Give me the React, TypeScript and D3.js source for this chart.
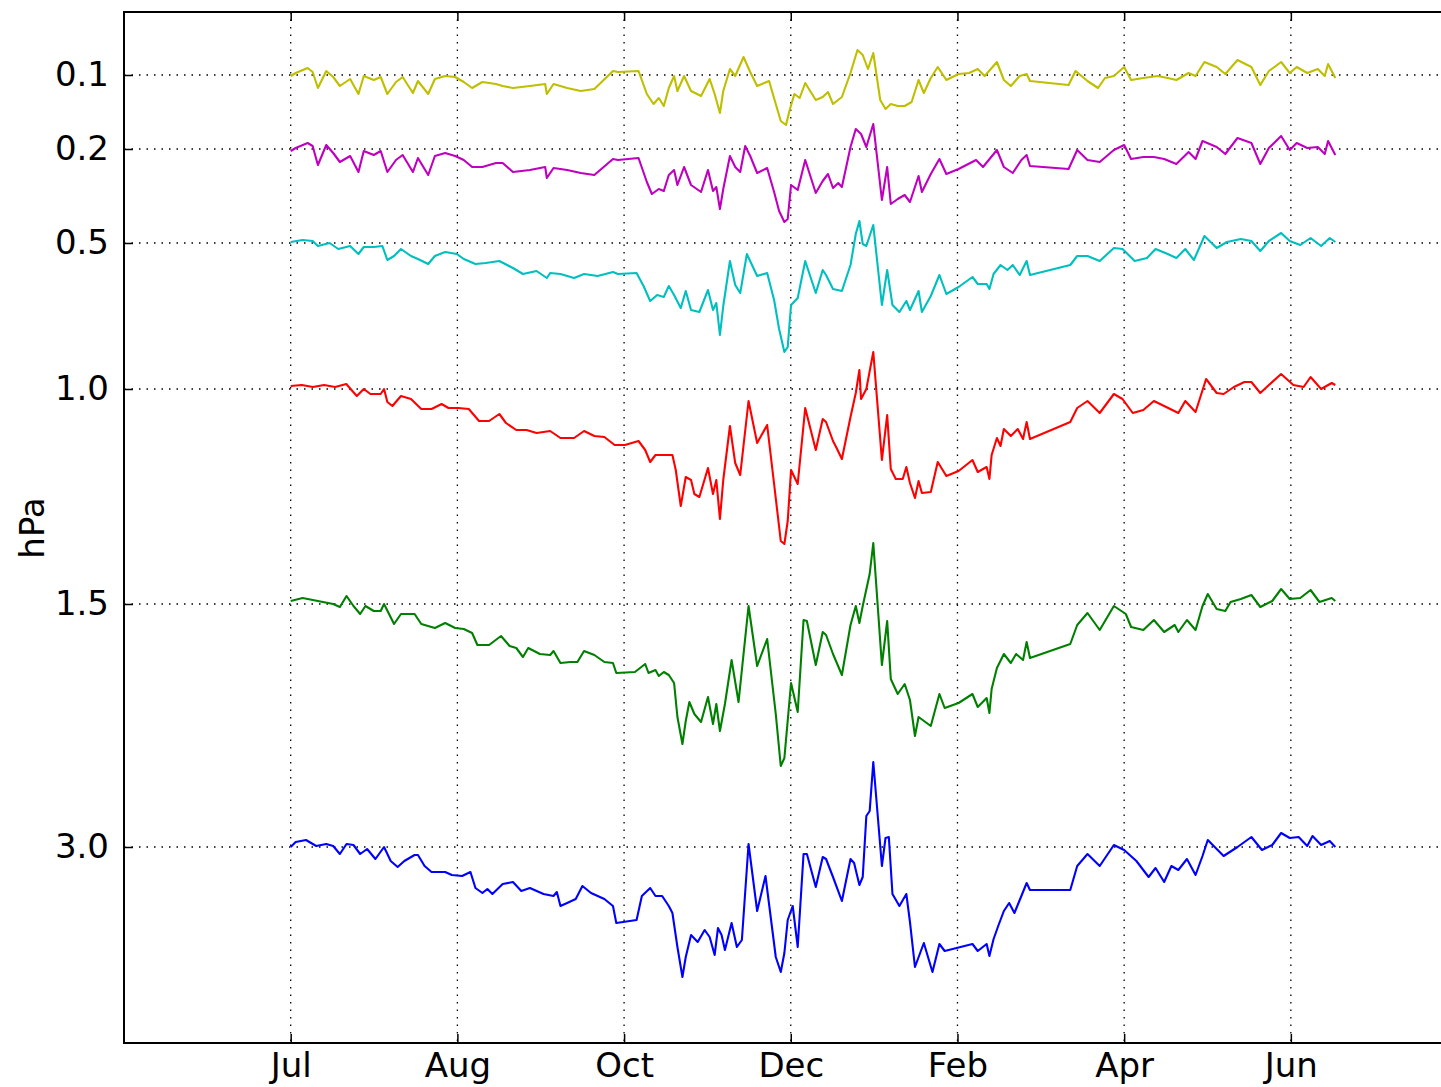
import React, { useEffect, useRef } from "react";
import * as d3 from "d3";

// pressure levels, their vertical offset on the plot, and line colours (matplotlib classic)
const levels = ["0.1", "0.2", "0.5", "1.0", "1.5", "3.0"];
const levelOffsets = [0, 74, 168, 314, 529, 772];
const colors = ["#bfbf00", "#bf00bf", "#00bfbf", "#ff0000", "#008000", "#0000ff"];

// x ticks every 60 days from Jul 1
const startDate = new Date(Date.UTC(2010, 6, 1));
const tickDays = [0, 60, 120, 180, 240, 300, 360];

// [day since Jul 1, anomaly (up = positive)]
const yellow: [number, number][] = [
  [0,-1],[1.8,2],[6.1,7],[7.9,3],[9.8,-13],[12.8,4],[15.3,-2],[17.7,-11],[21.4,-4],[24.4,-19],[26.3,-1],[29.9,-5],[32.4,-2],[34.8,-19],[37.9,-7],[40.3,-2],[44,-18],[45.8,-6],[49.5,-19],[51.9,-4],[55.6,-1],[59.2,-2],[62.3,-7],[65.3,-13],[69,-7],[73.9,-9],[76.3,-11],[80,-13],[86.1,-11],[91.6,-9],[92.2,-19],[94.6,-9],[99.5,-13],[104.4,-16],[109.3,-14],[116,4],[117.8,3],[125.2,4],[128.2,-19],[130.6,-29],[132.5,-23],[134.3,-31],[136.1,-13],[138,-1],[139.2,-16],[141.6,-1],[144.1,-16],[147.7,-21],[150.8,-4],[152.6,-19],[154.5,-38],[155.7,-16],[158.1,6],[160,-1],[163,18],[165.4,3],[167.9,-11],[172.2,-6],[174.6,-29],[176.4,-46],[178.3,-50],[179.5,-36],[181.3,-19],[183.2,-23],
  [185.2,-8],[189,-25],[191.5,-22],[193.4,-17],[195.2,-29],[198.4,-22],[201.5,2],[204,25],[205.9,20],[207.8,6],[209.7,22],[212.2,-25],[214.1,-34],[216,-29],[218.5,-31],[221,-31],[223.5,-27],[226,-5],[227.9,-18],[230.4,-3],[232.9,8],[236,-5],[240.4,1],[244.2,2],[247.3,6],[249.8,-1],[254.2,13],[256.7,-5],[259.2,-11],[262.4,-1],[264.9,1],[266.1,-6],[280,-10],[282.5,4],[286.8,-6],[290.6,-13],[293.1,-3],[296.3,-1],[300,8],[302.5,-5],[306.9,-3],[312,-1],[315.7,-3],[318.8,-5],[323.2,2],[325.7,-1],[328.9,13],[333.3,8],[336.4,1],[340.8,15],[345.8,8],[349,-10],[352.1,4],[356.5,13],[359.6,2],[362.1,8],[365.9,2],[369.7,6],[372.2,-1],[373.4,11],[376,-3],
];

const magenta: [number, number][] = [
  [0,-2],[1.8,1],[6.1,6],[7.9,3],[9.8,-16],[12.8,4],[15.3,-4],[17.7,-13],[21.4,-7],[24.4,-23],[26.3,-2],[29.9,-6],[32.4,-2],[34.8,-23],[37.9,-11],[40.3,-6],[44,-23],[45.8,-9],[49.5,-26],[51.9,-7],[55.6,-4],[59.2,-7],[62.3,-11],[65.3,-18],[69,-18],[73.9,-14],[76.3,-14],[80,-23],[86.1,-21],[91.6,-18],[92.2,-29],[94.6,-19],[99.5,-21],[104.4,-24],[109.3,-26],[116,-10],[117.8,-11],[125.2,-9],[128.2,-33],[130,-45],[132.5,-40],[134.3,-42],[136.1,-26],[138,-21],[139.2,-36],[141.6,-18],[144.1,-36],[147.7,-43],[150.2,-21],[152,-42],[153.2,-38],[154.5,-60],[155.7,-40],[158.1,-7],[160,-18],[161.8,-23],[163.6,3],[165.4,-7],[167.9,-24],[171.5,-19],[174,-43],[175.8,-62],[177.7,-73],[178.9,-70],[180.1,-36],[182.5,-41],
  [185.2,-11],[189,-44],[191.5,-32],[193.4,-25],[195.2,-39],[197.1,-34],[198.4,-38],[201.5,2],[203.4,20],[205.3,15],[207.2,2],[209.7,25],[212.8,-51],[214.7,-18],[216,-55],[218.5,-50],[221,-46],[222.9,-53],[226,-27],[227.2,-43],[230.4,-25],[233.5,-10],[236,-25],[240.4,-20],[246.7,-11],[249.2,-18],[254.2,-1],[256.7,-18],[259.9,-24],[263,-11],[264.9,-6],[266.1,-17],[280,-20],[283.1,-1],[286.8,-11],[291.2,-13],[296.3,-1],[300,4],[302.5,-10],[306.9,-8],[310.7,-8],[314.4,-10],[318.8,-15],[323.2,-3],[325.7,-10],[328.2,8],[333.3,2],[336.4,-5],[340.8,11],[345.8,6],[349,-15],[352.1,1],[356.5,13],[359.6,-1],[362.1,6],[365.9,1],[369.7,2],[372.2,-5],[373.4,8],[376,-6],
];

const cyan: [number, number][] = [
  [0,1],[4.3,3],[7.9,2],[9.8,-3],[14,0],[17.1,-6],[21.4,-3],[24.4,-11],[26.3,-4],[29.9,-4],[33,-3],[34.8,-17],[37.2,-13],[39.7,-6],[43.3,-13],[45.8,-16],[49.5,-21],[51.9,-13],[55.6,-9],[59.8,-11],[62.3,-16],[66.5,-21],[70.2,-20],[75.1,-18],[80,-25],[83.6,-31],[88.5,-28],[92.2,-35],[93.4,-30],[97.1,-31],[102,-35],[105.6,-31],[110.5,-33],[116,-29],[117.8,-31],[124.5,-30],[127,-43],[129.4,-58],[131.9,-52],[134.3,-54],[136.1,-43],[138,-52],[140.4,-65],[142.2,-48],[144.1,-67],[147.1,-69],[150.2,-47],[152,-67],[153.2,-60],[154.5,-92],[155.7,-63],[158.1,-18],[160,-42],[161.8,-50],[164.2,-11],[167.9,-33],[171.5,-30],[174,-57],[175.8,-86],[177.7,-109],[178.9,-104],[180.1,-62],[182.5,-55],
  [185.2,-18],[189,-50],[191.5,-27],[192.7,-32],[195.2,-46],[198.4,-48],[201.5,-22],[203.4,9],[204.7,22],[205.9,-1],[207.2,-3],[209.7,18],[212.8,-62],[214.7,-27],[216.6,-62],[219.1,-69],[221.6,-58],[222.9,-67],[226,-48],[227.2,-69],[230.4,-53],[233.5,-32],[236,-51],[240.4,-44],[245.4,-34],[247.3,-41],[250.5,-41],[251.5,-46],[253,-31],[255.5,-22],[258,-27],[259.9,-22],[262.4,-32],[264.9,-18],[266.1,-32],[280.6,-22],[283.1,-13],[286.8,-13],[291.2,-18],[296.3,-5],[299.4,-6],[303.8,-18],[308.2,-15],[311.3,-6],[315.7,-11],[318.8,-15],[322,-6],[325.1,-17],[328.9,7],[333.3,-5],[337,1],[342,4],[345.8,2],[349,-8],[352.1,2],[356.5,10],[359.6,2],[363.4,-2],[367.1,5],[370.9,-3],[374,5],[376,1],
];

const red: [number, number][] = [
  [0,3],[4,4],[8,2],[12,4],[16,2],[20,5],[23.8,-7],[26.3,0],[28.7,-5],[32.4,-5],[33.6,0],[34.8,-13],[36.6,-17],[39.7,-7],[43.3,-10],[47,-20],[50.7,-20],[54.3,-15],[56.8,-19],[60.4,-19],[64.1,-20],[67.8,-32],[71.4,-32],[75.1,-25],[77.5,-34],[81.2,-41],[84.9,-41],[88.5,-44],[93.4,-42],[97.1,-49],[102,-49],[105.6,-42],[109.3,-47],[112.9,-48],[116.6,-56],[120.3,-56],[125.2,-52],[127.6,-61],[129.4,-73],[131.3,-66],[137.4,-66],[138.6,-81],[140.4,-117],[142.2,-88],[144.1,-91],[145.3,-105],[147.1,-108],[150.2,-79],[152,-105],[153.2,-91],[154.5,-130],[155.7,-91],[158.1,-37],[160,-74],[161.8,-86],[164.8,-12],[167.9,-54],[171.5,-36],[174,-95],[176.4,-152],[177.7,-155],[178.9,-132],[180.1,-81],[182.5,-95],
  [185.2,-19],[189,-61],[191.5,-30],[192.7,-33],[195.2,-52],[196.5,-59],[198.4,-70],[201.5,-28],[203.4,-4],[204.7,19],[205.3,-10],[207.2,0],[209.7,37],[212.8,-71],[214.7,-26],[216,-80],[217.8,-90],[220.3,-90],[221.6,-78],[222.9,-94],[224.7,-109],[226,-92],[227.2,-104],[230.4,-103],[232.9,-73],[236,-87],[240.4,-82],[245.4,-71],[247.3,-83],[250.5,-78],[251.5,-90],[252.3,-66],[254.2,-49],[255.5,-57],[256.7,-40],[259.2,-47],[261.7,-40],[263.6,-50],[264.9,-33],[266.1,-50],[280.6,-33],[283.1,-19],[286.8,-12],[291.2,-24],[296.3,-5],[299.4,-10],[303.1,-24],[306.9,-21],[310.7,-12],[314.4,-17],[319.5,-24],[322,-12],[325.7,-23],[329.5,10],[333.3,-4],[335.8,-5],[339.5,2],[343.3,7],[345.8,7],[349,-4],[352.1,4],[356.5,15],[360.9,4],[364.6,2],[367.1,12],[370.9,0],[374.7,6],[376,4],
];

const green: [number, number][] = [
  [0,3],[4.3,6],[11.6,2],[15.3,0],[17.7,-3],[20.1,8],[22.6,-2],[25,-10],[26.9,-2],[29.9,-7],[32.4,-7],[33.6,0],[35.4,-10],[37.2,-20],[39.7,-10],[44.6,-10],[47,-20],[51.9,-24],[55.6,-19],[59.2,-24],[62.3,-25],[65.3,-29],[67.2,-41],[71.4,-41],[75.7,-32],[78.8,-42],[81.2,-44],[83.6,-53],[85.5,-44],[89.7,-50],[93.4,-51],[94.6,-47],[97.1,-59],[100.7,-58],[103.2,-58],[105.6,-47],[109.3,-51],[112.9,-58],[116,-59],[117.2,-69],[123.9,-68],[127.6,-60],[128.8,-69],[131.3,-66],[132.5,-72],[134.3,-68],[136.1,-71],[138,-79],[139.2,-113],[141,-140],[142.2,-117],[143.5,-98],[145.3,-110],[147.7,-118],[150.2,-93],[152,-120],[153.2,-100],[154.5,-127],[156.3,-100],[158.7,-56],[161.2,-98],[164.8,-2],[167.9,-62],[171.5,-35],[174.6,-110],[176.4,-162],[177.7,-154],[180.1,-79],[182.5,-108],
  [184.6,-16],[185.8,-17],[189,-61],[191.5,-28],[192.7,-31],[195.2,-50],[198.4,-71],[201.5,-21],[203.4,-2],[204.7,-19],[205.9,-2],[208.4,30],[209.7,61],[212.8,-61],[214.7,-17],[216,-75],[218.5,-90],[221,-80],[222.9,-96],[224.7,-132],[226,-113],[230.4,-122],[233.5,-90],[235.4,-104],[240.4,-99],[245.4,-90],[247.3,-103],[250.5,-94],[251.5,-109],[252.3,-85],[254.2,-64],[256.7,-50],[259.2,-59],[261.1,-50],[263.6,-56],[264.9,-38],[266.1,-54],[280.6,-40],[283.1,-21],[286.8,-9],[291.2,-26],[296.3,-2],[300.6,-10],[302.5,-23],[306.9,-26],[310.7,-16],[314.4,-28],[318.2,-21],[319.5,-28],[322.6,-16],[325.7,-26],[328.2,-2],[330.1,10],[333.3,-5],[336.4,-7],[338.3,2],[342,5],[345.8,9],[349,-3],[353.3,3],[356.5,15],[359.6,5],[363.4,6],[367.1,14],[370.3,2],[374.7,6],[376,3],
];

const blue: [number, number][] = [
  [0,0],[1.8,5],[5.5,7],[9.2,1],[12.8,3],[15.3,1],[17.7,-7],[20.1,3],[22.6,2],[25,-7],[27.5,-2],[30.5,-12],[33.6,0],[36,-14],[38.5,-20],[40.9,-14],[44.6,-8],[45.8,-8],[48.2,-19],[50.7,-25],[55.6,-25],[58,-28],[61.7,-29],[64.7,-25],[66.5,-41],[69,-46],[70.8,-42],[72.6,-47],[76.3,-37],[80,-35],[83,-44],[86.1,-41],[91,-47],[94.6,-49],[95.8,-45],[97.1,-59],[99.5,-56],[102.6,-52],[105,-39],[108.1,-46],[112.9,-52],[116,-59],[117.2,-76],[124.5,-73],[126.4,-49],[129.4,-41],[131.3,-49],[133.7,-49],[136.1,-59],[137.4,-66],[139.2,-100],[141,-130],[142.2,-110],[144.1,-88],[146.5,-95],[149,-83],[150.8,-90],[152.6,-108],[153.8,-81],[155.1,-88],[156.3,-103],[158.7,-76],[160.6,-100],[162.4,-93],[164.8,3],[167.9,-64],[170.9,-29],[174.6,-110],[176.4,-125],[177.7,-106],[178.9,-73],[180.7,-59],[182.5,-100],
  [184.6,-7],[185.8,-7],[189,-40],[191.5,-10],[192.7,-12],[195.2,-30],[198.4,-54],[201.5,-12],[202.8,-16],[204.7,-38],[205.9,-30],[207.2,31],[208.4,36],[209.7,85],[212.8,-19],[214.1,9],[215.3,10],[216.6,-47],[219.1,-59],[221.6,-47],[222.9,-75],[224.7,-120],[227.9,-96],[231,-125],[233.5,-97],[235.4,-104],[245.4,-97],[247.3,-104],[250.5,-97],[251.5,-109],[253,-92],[254.8,-78],[256.7,-64],[258.6,-56],[260.5,-66],[263,-49],[264.9,-36],[266.1,-43],[280.6,-43],[283.1,-19],[286.8,-7],[291.2,-19],[296.3,2],[300,-3],[304.4,-14],[308.8,-30],[311.3,-21],[314.4,-35],[317,-19],[319.5,-23],[322.6,-12],[325.7,-28],[328.2,-9],[330.1,7],[335.8,-9],[340.8,0],[345.8,10],[349.6,-3],[353.3,2],[356.5,14],[359.6,9],[362.8,10],[365.9,1],[367.8,11],[370.9,2],[374,6],[376,0],
];

const series = [yellow, magenta, cyan, red, green, blue];

const dayToDate = (d: number) => new Date(startDate.getTime() + d * 86400000);

export default function App() {
  const ref = useRef<SVGSVGElement>(null);

  useEffect(() => {
    const width = 1441,
      height = 1087;
    const left = 124,
      right = 1502,
      top = 12,
      bottom = 1043;

    const svg = d3.select(ref.current);
    svg.selectAll("*").remove();

    const x = d3.scaleUtc().domain([dayToDate(-60), dayToDate(436)]).range([left, right]);
    const y = d3.scaleLinear().domain([-63, 968]).range([top, bottom]);
    const tickDates = tickDays.map(dayToDate);

    svg.append("rect").attr("width", width).attr("height", height).attr("fill", "#fff");

    // dotted grid
    const grid = svg.append("g").attr("stroke", "#000").attr("stroke-width", 1.3).attr("stroke-dasharray", "1.5,6");
    grid.selectAll(".gx").data(tickDates).enter().append("line")
      .attr("x1", (d) => x(d)).attr("x2", (d) => x(d))
      .attr("y1", top).attr("y2", bottom);
    grid.selectAll(".gy").data(levelOffsets).enter().append("line")
      .attr("x1", left).attr("x2", right)
      .attr("y1", (d) => y(d)).attr("y2", (d) => y(d));

    // one line per pressure level
    const line = d3.line<[number, number]>()
      .x((d) => x(dayToDate(d[0])));

    series.forEach((s, i) => {
      line.y((d) => y(levelOffsets[i] - d[1]));
      svg.append("path")
        .datum(s)
        .attr("fill", "none")
        .attr("stroke", colors[i])
        .attr("stroke-width", 2.1)
        .attr("stroke-linejoin", "round")
        .attr("d", line);
    });

    const font = "'DejaVu Sans', sans-serif";
    const fontSize = 34;

    // axes, ticks pointing inwards
    const yAxis = d3.axisLeft(y)
      .tickValues(levelOffsets)
      .tickFormat((d, i) => levels[i])
      .tickSizeInner(-9)
      .tickSizeOuter(0)
      .tickPadding(15);
    const gy = svg.append("g").attr("transform", `translate(${left},0)`).call(yAxis);

    const xAxis = d3.axisBottom(x)
      .tickValues(tickDates)
      .tickFormat((d) => d3.utcFormat("%b")(d as Date))
      .tickSizeInner(-9)
      .tickSizeOuter(0)
      .tickPadding(10);
    const gx = svg.append("g").attr("transform", `translate(0,${bottom})`).call(xAxis);

    const xTop = d3.axisTop(x).tickValues(tickDates).tickFormat(() => "").tickSizeInner(-9).tickSizeOuter(0);
    const gt = svg.append("g").attr("transform", `translate(0,${top})`).call(xTop);

    [gx, gy, gt].forEach((g) => {
      g.select(".domain").remove();
      g.selectAll(".tick line").attr("stroke", "#000").attr("stroke-width", 1.5);
      g.selectAll("text").attr("font-family", font).attr("font-size", fontSize).attr("fill", "#000");
    });

    // frame
    svg.append("rect")
      .attr("x", left).attr("y", top)
      .attr("width", right - left).attr("height", bottom - top)
      .attr("fill", "none").attr("stroke", "#000").attr("stroke-width", 2);

    svg.append("text")
      .attr("transform", `translate(44,528) rotate(-90)`)
      .attr("text-anchor", "middle")
      .attr("font-family", font)
      .attr("font-size", fontSize)
      .text("hPa");
  }, []);

  return (
    <svg
      ref={ref}
      width={1441}
      height={1087}
      style={{ position: "absolute", left: 0, top: 0 }}
    />
  );
}
